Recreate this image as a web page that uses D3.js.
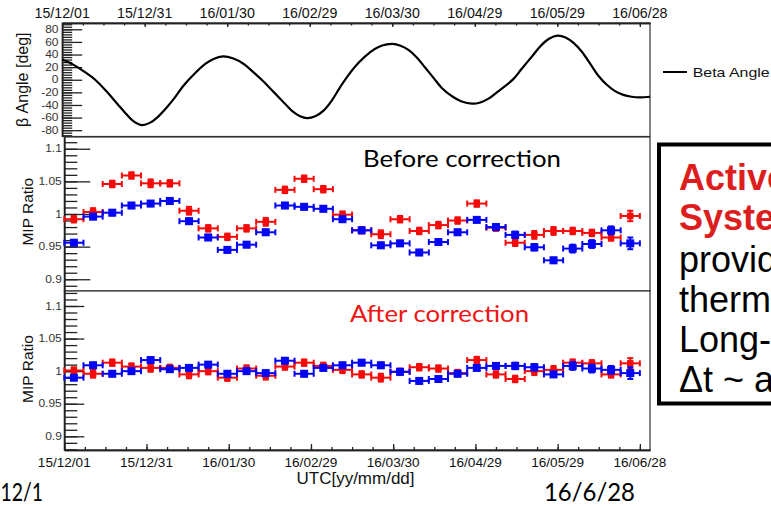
<!DOCTYPE html>
<html>
<head>
<meta charset="utf-8">
<script src="https://cdn.jsdelivr.net/npm/d3@7"></script>
<style>
  body { margin: 0; background: #fff; overflow: hidden; }
  svg { display: block; }
  .root { font-family: "Liberation Sans", Arial, Helvetica, sans-serif; fill: #111; }
  .slide { font-family: Lato, "Open Sans", sans-serif; }
</style>
</head>
<body>
<svg id="chart" width="771" height="506"></svg>
<script>
// x in days since 15/12/01
var dateTicks = [0, 30, 60, 90, 120, 150, 180, 210];
var dateLabels = ["15/12/01", "15/12/31", "16/01/30", "16/02/29", "16/03/30", "16/04/29", "16/05/29", "16/06/28"];

var betaTicks = [-80, -60, -40, -20, 0, 20, 40, 60, 80];
var ratioTicks = [0.9, 0.95, 1, 1.05, 1.1];
var ratioLabels = ["0.9", "0.95", "1", "1.05", "1.1"];

// beta angle curve
var betaDays = [0, 4, 8, 12, 16, 20, 23, 26, 29, 32, 35, 38, 41, 44, 48, 52, 55, 58.5,
  62, 66, 70, 73, 77, 81, 84, 86.5, 89, 92, 95, 98, 101, 104, 108, 112, 115, 118, 120,
  123, 126, 129, 132, 135, 138, 142, 145, 149, 152, 155, 158, 161, 164, 167, 171, 174, 177, 180,
  183, 186, 189, 192, 195, 198, 201, 204, 207, 210, 213.7];
var betaAngle = [32, 24, 13, 0, -18, -38, -53, -66, -72, -68, -58, -44, -28, -10, 9, 25, 33, 37,
  34, 25, 10, -2, -20, -38, -51, -58, -61, -58, -49, -33, -12, 7, 28, 44, 52, 56, 57,
  54, 47, 35, 19, 3, -13, -27, -34, -38, -36, -30, -20, -10, 1, 17, 38, 54, 65, 70,
  67, 58, 44, 25, 6, -8, -18, -24, -27, -28, -27];

// weekly bins
var binDays = [3.5, 10.5, 17.5, 24.5, 31.5, 38.5, 45.5, 52.5, 59.5, 66.5,
  73.5, 80.5, 87.5, 94.5, 101.5, 108.5, 115.5, 122.5, 129.5, 136.5,
  143.5, 150.5, 157.5, 164.5, 171.5, 178.5, 185.5, 192.5, 199.5, 206.5];

var beforeRed = [0.992, 1.003, 1.046, 1.059, 1.047, 1.047, 1.005, 0.978, 0.965, 0.978,
  0.988, 1.037, 1.054, 1.038, 0.999, 0.975, 0.969, 0.992, 0.974, 0.983,
  0.990, 1.016, 0.979, 0.956, 0.968, 0.974, 0.974, 0.971, 0.964, 0.997];
var beforeBlue = [0.956, 0.996, 1.002, 1.013, 1.016, 1.020, 0.989, 0.964, 0.945, 0.953,
  0.972, 1.013, 1.011, 1.008, 0.992, 0.975, 0.952, 0.955, 0.941, 0.957,
  0.972, 0.991, 0.980, 0.968, 0.949, 0.929, 0.947, 0.954, 0.975, 0.955];

var afterRed = [1.001, 0.996, 1.013, 1.007, 1.005, 1.005, 0.995, 1.000, 0.990, 1.004,
  0.993, 1.007, 1.013, 1.008, 1.002, 0.995, 0.990, 0.999, 1.006, 1.004,
  0.997, 1.017, 0.995, 0.988, 1.000, 1.002, 1.013, 1.012, 0.995, 1.012];
var afterBlue = [0.990, 1.009, 0.996, 1.000, 1.017, 1.003, 1.005, 1.010, 0.996, 1.000,
  0.997, 1.016, 0.996, 1.005, 1.009, 1.013, 1.009, 0.999, 0.985, 0.988,
  0.996, 1.005, 1.008, 1.008, 1.006, 0.995, 1.008, 1.004, 1.002, 0.997];

var redErr = [0.005, 0.006, 0.005, 0.005, 0.006, 0.005, 0.006, 0.005, 0.005, 0.005,
  0.006, 0.005, 0.005, 0.005, 0.005, 0.005, 0.006, 0.005, 0.005, 0.005,
  0.005, 0.005, 0.005, 0.005, 0.006, 0.006, 0.005, 0.005, 0.005, 0.008];
var blueErr = [0.004, 0.004, 0.004, 0.004, 0.004, 0.004, 0.004, 0.004, 0.004, 0.004,
  0.004, 0.004, 0.004, 0.004, 0.004, 0.004, 0.004, 0.004, 0.004, 0.004,
  0.004, 0.004, 0.004, 0.005, 0.005, 0.004, 0.006, 0.006, 0.006, 0.009];

var boxLines = ["Active Thermal Control", "System (ATCS)", "provides stable", "thermal environment", "Long-term stability", "\u0394t ~ a few degrees"];

var svg = d3.select("#chart");

var xTop = d3.scaleLinear().domain([0, 213.7]).range([62.2, 650]),
    xBot = d3.scaleLinear().domain([0, 213.7]).range([64.3, 650]),
    yBeta = d3.scaleLinear().domain([-90, 90]).range([136.5, 23]),
    yMid = d3.scaleLinear().domain([0.882, 1.118]).range([291, 137]),
    yLow = d3.scaleLinear().domain([0.879, 1.123]).range([450, 291]);

var minorDays = d3.range(0, 213, 7.5);

// frames
function frame(x, y) {
  svg.append("rect")
      .attr("x", x.range()[0]).attr("y", y.range()[1])
      .attr("width", x.range()[1] - x.range()[0])
      .attr("height", y.range()[0] - y.range()[1])
      .attr("fill", "#fff").attr("stroke", "#333").attr("stroke-width", 1.2);
}
frame(xTop, yBeta);
frame(xBot, yMid);
frame(xBot, yLow);

// y axes, ticks pointing into the frame
function yAxis(x0, y, major, minor, majorLen, minorLen) {
  svg.append("g").attr("transform", "translate(" + x0 + ",0)")
      .call(d3.axisRight(y).tickValues(minor).tickSize(minorLen).tickSizeOuter(0).tickFormat(""));
  svg.append("g").attr("transform", "translate(" + x0 + ",0)")
      .call(d3.axisRight(y).tickValues(major).tickSize(majorLen).tickSizeOuter(0).tickFormat(""));
}
yAxis(62.2, yBeta, betaTicks, d3.range(-88, 90, 4), 20, 10);
yAxis(64.3, yMid, ratioTicks, d3.range(0.89, 1.115, 0.01), 26, 13);
yAxis(64.3, yLow, ratioTicks, d3.range(0.88, 1.12, 0.01), 20, 13);

function yLabels(y, ticks, labels, xRight) {
  svg.append("g").attr("class", "root").selectAll("text")
    .data(ticks).enter().append("text")
      .attr("transform", function(d) { return "translate(" + xRight + "," + y(d) + ") scale(1.2,1)"; })
      .attr("text-anchor", "end")
      .attr("dy", "0.36em")
      .style("font-size", "10px")
      .style("fill", "#333")
      .text(function(d, i) { return labels[i]; });
}
yLabels(yBeta, betaTicks, betaTicks.map(String), 58.5);
yLabels(yMid, ratioTicks, ratioLabels, 61.8);
yLabels(yLow, ratioTicks, ratioLabels, 61.8);

// x axes: top of the beta panel and bottom of the lower panel
svg.append("g").attr("transform", "translate(0,23)")
    .call(d3.axisBottom(xTop).tickValues(minorDays).tickSize(2.5).tickSizeOuter(0).tickFormat(""));
svg.append("g").attr("transform", "translate(0,23)")
    .call(d3.axisBottom(xTop).tickValues(dateTicks).tickSize(4).tickSizeOuter(0).tickFormat(""));
svg.append("g").attr("transform", "translate(0,450)")
    .call(d3.axisTop(xBot).tickValues(minorDays).tickSize(3).tickSizeOuter(0).tickFormat(""));
svg.append("g").attr("transform", "translate(0,450)")
    .call(d3.axisTop(xBot).tickValues(dateTicks).tickSize(6).tickSizeOuter(0).tickFormat(""));
svg.selectAll(".tick line").attr("stroke", "#222").attr("stroke-width", 1.3);
svg.selectAll(".domain").attr("stroke", "#222").attr("stroke-width", 1.3);

svg.append("g").attr("class", "root").selectAll("text")
  .data(dateTicks).enter().append("text")
    .attr("x", function(d) { return xTop(d); })
    .attr("y", 18)
    .attr("text-anchor", "middle")
    .style("font-size", "14.2px")
    .text(function(d, i) { return dateLabels[i]; });
svg.append("g").attr("class", "root").selectAll("text")
  .data(dateTicks).enter().append("text")
    .attr("x", function(d) { return xBot(d); })
    .attr("y", 466.5)
    .attr("text-anchor", "middle")
    .style("font-size", "13.6px")
    .text(function(d, i) { return dateLabels[i]; });

// axis titles
svg.append("text").attr("class", "root")
    .attr("x", 355.5).attr("y", 484)
    .attr("text-anchor", "middle").style("font-size", "17px")
    .text("UTC[yy/mm/dd]");
svg.append("text").attr("class", "root")
    .attr("transform", "translate(27.5," + yBeta(0) + ") rotate(-90)")
    .attr("text-anchor", "middle").style("font-size", "16px")
    .text("\u03b2 Angle [deg]");
svg.append("text").attr("class", "root")
    .attr("transform", "translate(32.5,211.7) rotate(-90)")
    .attr("text-anchor", "middle").style("font-size", "15.5px")
    .text("MIP Ratio");
svg.append("text").attr("class", "root")
    .attr("transform", "translate(32.5,369) rotate(-90)")
    .attr("text-anchor", "middle").style("font-size", "15.5px")
    .text("MIP Ratio");

// beta angle
var line = d3.line()
    .x(function(d, i) { return xTop(betaDays[i]); })
    .y(function(d) { return yBeta(d); })
    .curve(d3.curveCatmullRom);
svg.append("path")
    .attr("d", line(betaAngle))
    .attr("fill", "none").attr("stroke", "#000").attr("stroke-width", 2.2);

svg.append("line").attr("x1", 663).attr("x2", 687).attr("y1", 72).attr("y2", 72)
    .attr("stroke", "#000").attr("stroke-width", 2);
svg.append("text").attr("class", "root")
    .attr("x", 692.7).attr("y", 76.8).style("font-size", "13.5px")
    .attr("textLength", 77).attr("lengthAdjust", "spacingAndGlyphs")
    .text("Beta Angle");

// error-bar points
function points(y, vals, errs, color, size) {
  var data = vals.map(function(v, i) { return { d: binDays[i], v: v, e: errs[i] }; });
  var g = svg.append("g").selectAll("g").data(data).enter().append("g")
      .attr("stroke", color).attr("fill", color).attr("stroke-width", 2);
  g.append("line")
      .attr("x1", function(p) { return xBot(p.d - 3.5); })
      .attr("x2", function(p) { return xBot(p.d + 3.5); })
      .attr("y1", function(p) { return y(p.v); })
      .attr("y2", function(p) { return y(p.v); });
  [-3.5, 3.5].forEach(function(off) {
    g.append("line")
        .attr("x1", function(p) { return xBot(p.d + off); })
        .attr("x2", function(p) { return xBot(p.d + off); })
        .attr("y1", function(p) { return y(p.v) - 3; })
        .attr("y2", function(p) { return y(p.v) + 3; });
  });
  g.append("line")
      .attr("x1", function(p) { return xBot(p.d); })
      .attr("x2", function(p) { return xBot(p.d); })
      .attr("y1", function(p) { return y(p.v + p.e); })
      .attr("y2", function(p) { return y(p.v - p.e); });
  [1, -1].forEach(function(s) {
    g.append("line")
        .attr("x1", function(p) { return xBot(p.d) - 3; })
        .attr("x2", function(p) { return xBot(p.d) + 3; })
        .attr("y1", function(p) { return y(p.v + s * p.e); })
        .attr("y2", function(p) { return y(p.v + s * p.e); });
  });
  g.append("rect")
      .attr("stroke", "none")
      .attr("x", function(p) { return xBot(p.d) - size / 2; })
      .attr("y", function(p) { return y(p.v) - size / 2; })
      .attr("width", size).attr("height", size);
}
points(yMid, beforeRed, redErr, "#f50a0a", 6.5);
points(yMid, beforeBlue, blueErr, "#0505f5", 8);
points(yLow, afterRed, redErr, "#f50a0a", 6.5);
points(yLow, afterBlue, blueErr, "#0505f5", 8);

// slide annotations
svg.append("text").attr("class", "slide")
    .attr("x", 363).attr("y", 166.7).style("font-size", "23px").attr("fill", "#000")
    .attr("textLength", 198).attr("lengthAdjust", "spacingAndGlyphs")
    .text("Before correction");
svg.append("text").attr("class", "slide")
    .attr("x", 350).attr("y", 321.7).style("font-size", "23px").attr("fill", "#f01414")
    .attr("textLength", 179).attr("lengthAdjust", "spacingAndGlyphs")
    .text("After correction");
svg.append("text").attr("class", "slide")
    .attr("x", 0.5).attr("y", 501)
    .style("font-size", "25.5px").attr("fill", "#000")
    .attr("textLength", 42.5).attr("lengthAdjust", "spacingAndGlyphs")
    .text("12/1");
svg.append("text").attr("class", "slide")
    .attr("x", 544).attr("y", 501)
    .style("font-size", "25.5px").attr("fill", "#000")
    .attr("textLength", 91).attr("lengthAdjust", "spacingAndGlyphs")
    .text("16/6/28");

// text box on the right
svg.append("rect")
    .attr("x", 659).attr("y", 144.5).attr("width", 200).attr("height", 259)
    .attr("fill", "#fff").attr("stroke", "#000").attr("stroke-width", 4);
var boxY = [190, 230, 272, 312, 352, 392];
svg.append("g").selectAll("text").data(boxLines).enter().append("text")
    .attr("x", 679)
    .attr("y", function(d, i) { return boxY[i]; })
    .style("font-family", "'Liberation Sans', Arial, sans-serif")
    .style("font-size", "36px")
    .style("font-weight", function(d, i) { return i < 2 ? "bold" : "normal"; })
    .attr("fill", function(d, i) { return i < 2 ? "#dc1e1e" : "#000"; })
    .text(function(d) { return d; });
</script>
</body>
</html>
